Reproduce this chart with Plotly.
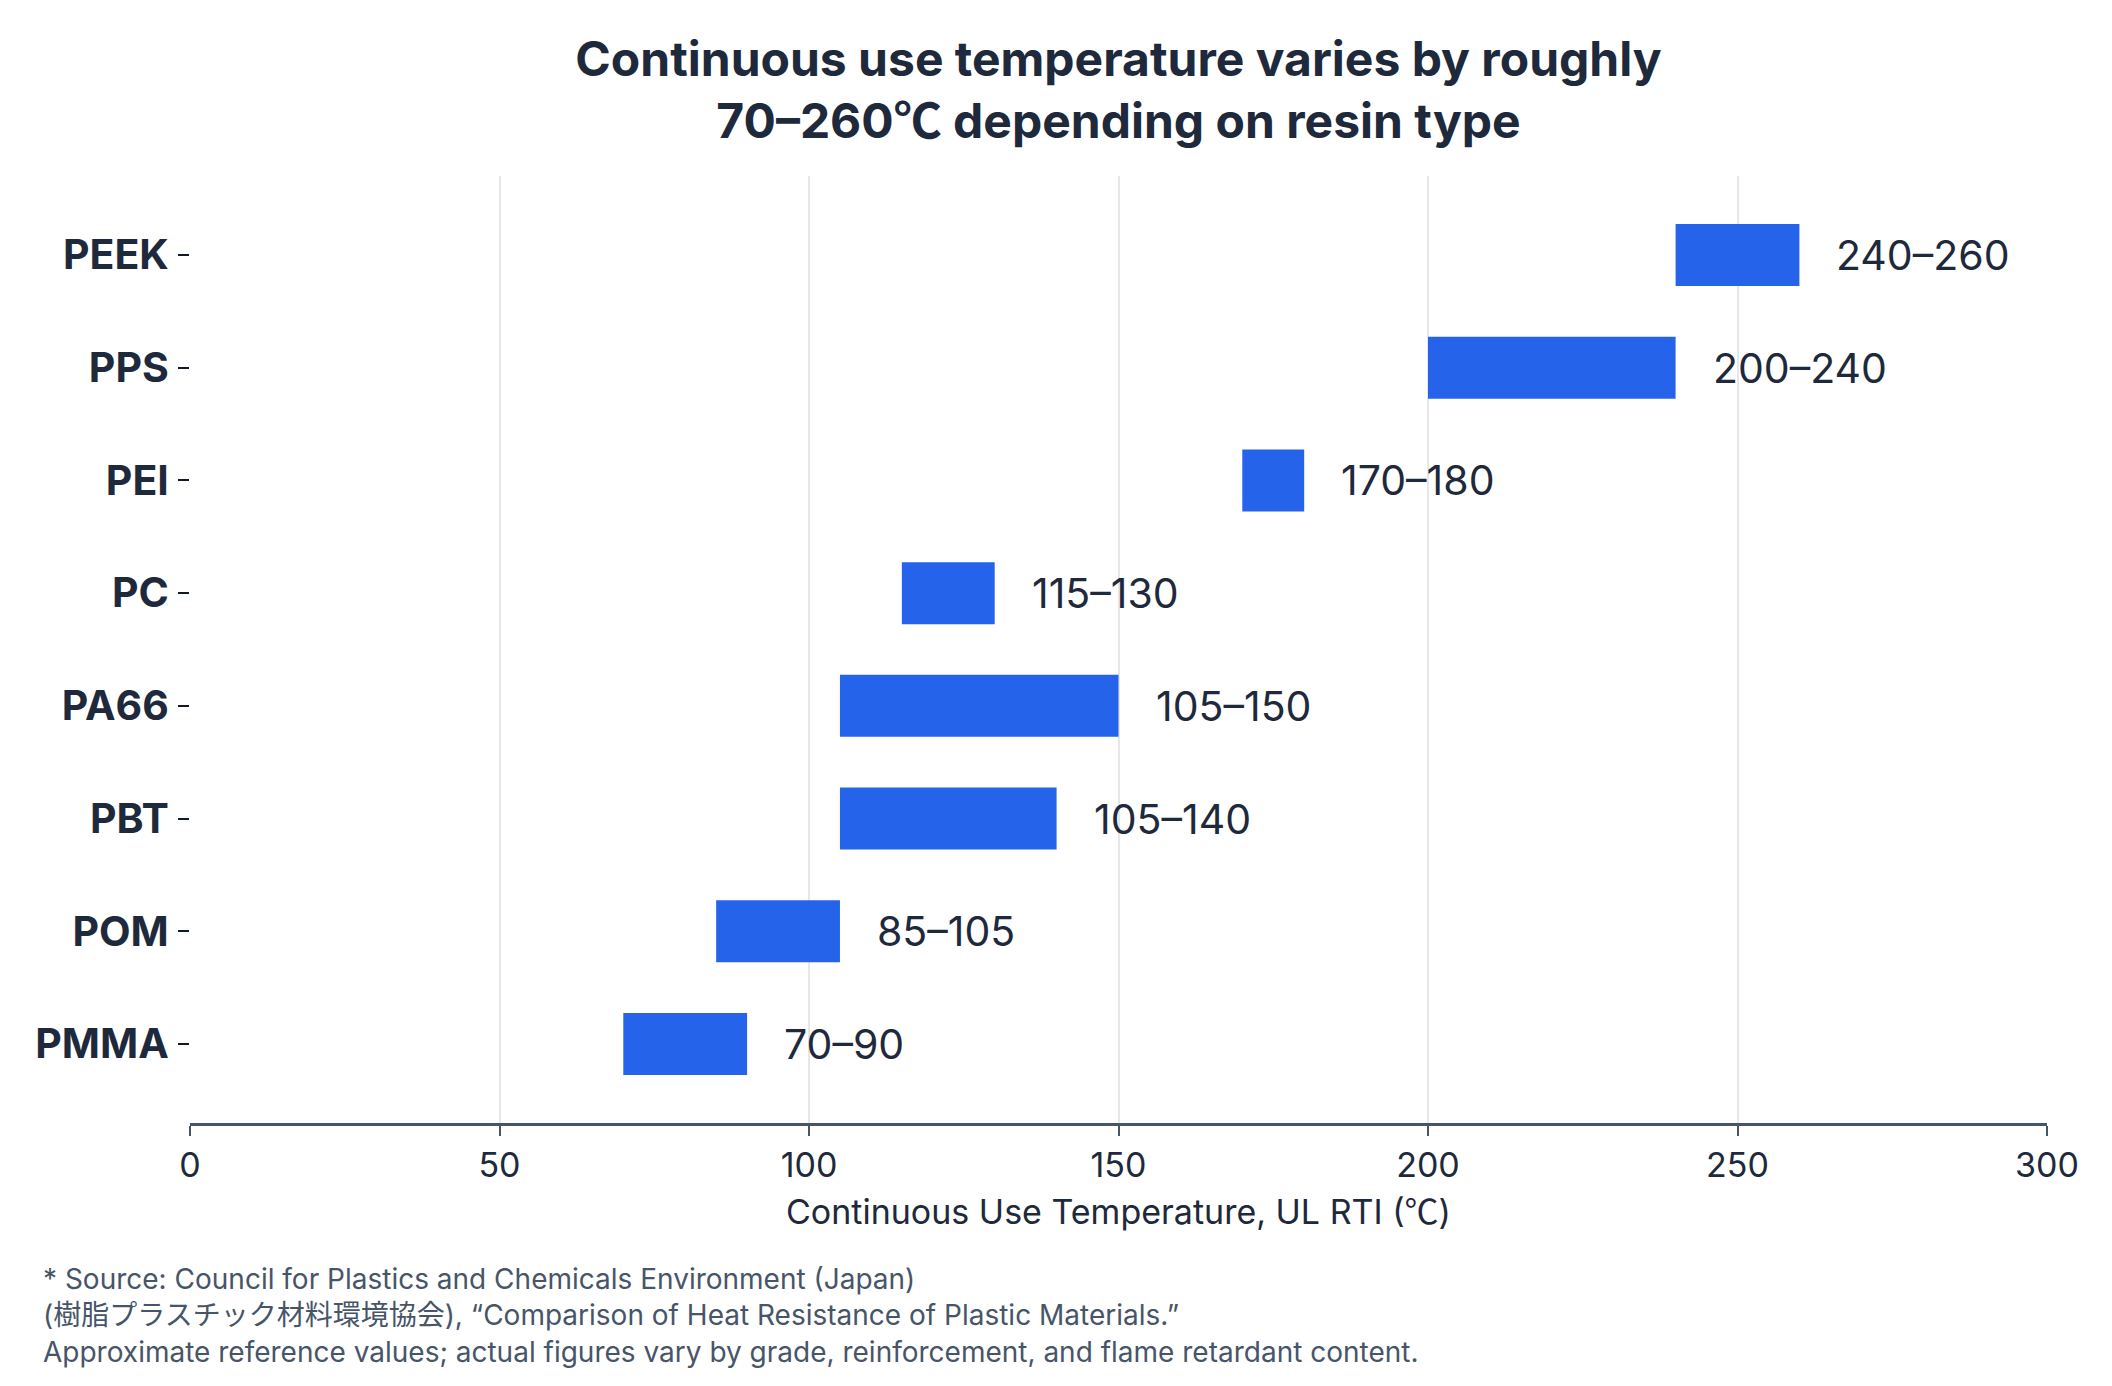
import plotly.graph_objects as go

# --- Data ---
resins = ["PMMA", "POM", "PBT", "PA66", "PC", "PEI", "PPS", "PEEK"]
temp_low = [70, 85, 105, 105, 115, 170, 200, 240]
temp_high = [90, 105, 140, 150, 130, 180, 240, 260]
x_ticks = [0, 50, 100, 150, 200, 250, 300]

TEXT = "#1e293b"
MUTED = "#475569"
BLUE = "#2563eb"
FONT = "Inter, Noto Sans CJK JP, sans-serif"
DEG_C = "<span style='font-family:Noto Sans CJK JP'>\u2103</span>"

labels = [f"{lo}\u2013{hi}" for lo, hi in zip(temp_low, temp_high)]
widths = [hi - lo for lo, hi in zip(temp_low, temp_high)]

fig = go.Figure(
    go.Bar(
        y=resins,
        x=widths,
        base=temp_low,
        orientation="h",
        width=0.55,
        marker=dict(color=BLUE, line=dict(width=0)),
        hovertemplate="%{y}: %{base}\u2013%{x}<extra></extra>",
    )
)

# range labels to the right of each bar
for r, hi, lab in zip(resins, temp_high, labels):
    fig.add_annotation(
        x=hi, y=r, text=lab, showarrow=False,
        xanchor="left", yanchor="middle", xshift=35,
        font=dict(size=41, color=TEXT, family=FONT),
    )

footnote = (
    "* Source: Council for Plastics and Chemicals Environment (Japan)<br>"
    "(樹脂プラスチック材料環境協会), \u201cComparison of Heat Resistance of Plastic Materials.\u201d<br>"
    "Approximate reference values; actual figures vary by grade, reinforcement, and flame retardant content."
)
fig.add_annotation(
    xref="paper", yref="paper", x=-0.08, y=-0.145,
    xanchor="left", yanchor="top", align="left",
    text=footnote, showarrow=False,
    font=dict(size=28, color=MUTED, family=FONT),
)

fig.update_layout(
    width=2112, height=1386,
    margin=dict(l=182, r=73, t=168, b=271, autoexpand=False),
    plot_bgcolor="white", paper_bgcolor="white",
    font=dict(family=FONT, color=TEXT),
    showlegend=False,
    title=dict(
        text=f"<b>Continuous use temperature varies by roughly<br>70\u2013260{DEG_C} depending on resin type</b>",
        x=0.5, xref="paper", xanchor="center",
        y=1 - 68 / 1386, yref="container", yanchor="top",
        font=dict(size=48, color=TEXT, family=FONT),
    ),
    xaxis=dict(
        range=[0, 300], tickvals=x_ticks,
        showgrid=True, gridcolor="#e5e7eb", gridwidth=2,
        zeroline=False,
        showline=True, linecolor=MUTED, linewidth=3,
        ticks="outside", ticklen=10, tickwidth=2, tickcolor=MUTED,
        tickfont=dict(size=34, color=TEXT),
        title=dict(text=f"Continuous Use Temperature, UL RTI ({DEG_C})",
                   font=dict(size=34, color=TEXT), standoff=14),
    ),
    yaxis=dict(
        categoryorder="array", categoryarray=resins,
        range=[-0.7, 7.7], automargin=False,
        showgrid=False, zeroline=False, showline=False,
        ticks="outside", ticklen=11, tickwidth=2, tickcolor="#111827",
        ticklabelstandoff=1,
        tickfont=dict(size=41, color=TEXT, weight="bold"),
    ),
)

fig.write_html("out.html")
